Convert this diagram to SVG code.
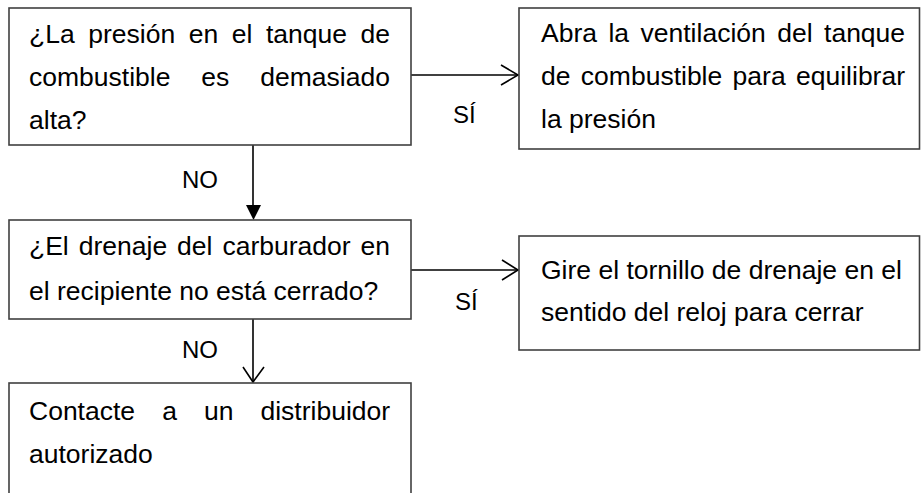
<svg xmlns="http://www.w3.org/2000/svg" width="921" height="493" viewBox="0 0 921 493">
<style>
.box{fill:#fff;stroke:#404040;stroke-width:1.6}
.t{font-family:"Liberation Sans",Arial,sans-serif;font-size:26.5px;fill:#000}
.lbl{font-family:"Liberation Sans",Arial,sans-serif;font-size:24px;fill:#000}
.ln{stroke:#000;stroke-width:1.6;fill:none}
</style>
<rect width="921" height="493" fill="#fff"/>
<g id="connectors">
<line class="ln" x1="411" y1="75" x2="518" y2="75"/>
<polyline class="ln" points="501,65 518,75 501,85"/>
<line class="ln" x1="253" y1="145" x2="253" y2="206" stroke-width="2"/>
<polygon points="246,205 261,205 253.5,220" fill="#000"/>
<line class="ln" x1="411" y1="270" x2="518" y2="270"/>
<polyline class="ln" points="502,260 518,270 502,280"/>
<line class="ln" x1="253" y1="319" x2="253" y2="382"/>
<polyline class="ln" points="243,367 253,382 264,367"/>
<text class="lbl" x="453" y="123">SÍ</text>
<text class="lbl" x="182" y="188">NO</text>
<text class="lbl" x="455" y="310">SÍ</text>
<text class="lbl" x="182" y="358">NO</text>
</g>
<g id="n1">
<rect class="box" x="9" y="8" width="402" height="137"/>
<text class="t" x="29" y="43" word-spacing="6.2">¿La presión en el tanque de</text>
<text class="t" x="29" y="86" word-spacing="23.6">combustible es demasiado</text>
<text class="t" x="29" y="129">alta?</text>
</g>
<g id="n2">
<rect class="box" x="519" y="8" width="400.5" height="141"/>
<text class="t" x="541" y="42" word-spacing="4.1">Abra la ventilación del tanque</text>
<text class="t" x="541" y="85" word-spacing="3">de combustible para equilibrar</text>
<text class="t" x="541" y="128">la presión</text>
</g>
<g id="n3">
<rect class="box" x="9" y="220" width="402" height="99"/>
<text class="t" x="29" y="255" word-spacing="2.6">¿El drenaje del carburador en</text>
<text class="t" x="29" y="300">el recipiente no está cerrado?</text>
</g>
<g id="n4">
<rect class="box" x="519" y="236" width="400.5" height="114"/>
<text class="t" x="541" y="279">Gire el tornillo de drenaje en el</text>
<text class="t" x="541" y="321">sentido del reloj para cerrar</text>
</g>
<g id="n5">
<rect class="box" x="9" y="383" width="402" height="120"/>
<text class="t" x="29" y="420" word-spacing="19.7">Contacte a un distribuidor</text>
<text class="t" x="29" y="463">autorizado</text>
</g>
</svg>
